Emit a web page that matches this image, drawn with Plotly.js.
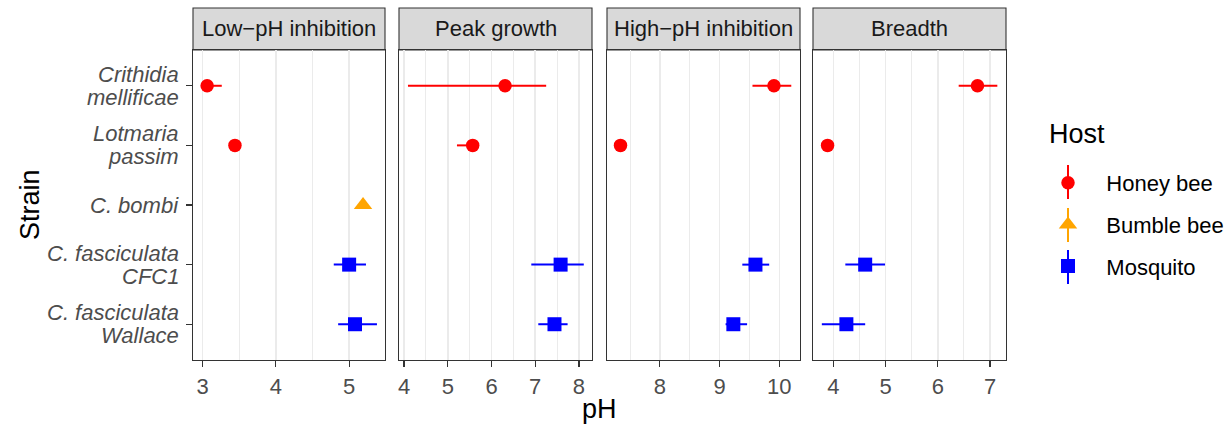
<!DOCTYPE html>
<html><head><meta charset="utf-8">
<script src="https://cdn.plot.ly/plotly-3.0.1.min.js"></script>
<style>html,body{margin:0;padding:0;background:#fff}#chart{width:1227px;height:427px}</style>
</head><body><div id="chart"></div>
<script>
// ---- data ----
const strains = ['Crithidia mellificae', 'Lotmaria passim', 'C. bombi', 'C. fasciculata CFC1', 'C. fasciculata Wallace'];
const strainLines = [['Crithidia', 'mellificae'], ['Lotmaria', 'passim'], ['C. bombi'], ['C. fasciculata', 'CFC1'], ['C. fasciculata', 'Wallace']];
const strainHost = ['Honey bee', 'Honey bee', 'Bumble bee', 'Mosquito', 'Mosquito'];
const hosts = ['Honey bee', 'Bumble bee', 'Mosquito'];
const hostColors = ['#FF0000', '#FFA500', '#0000FF'];
const hostSymbols = ['circle', 'triangle-up', 'square'];
const panels = ['Low\u2212pH inhibition', 'Peak growth', 'High\u2212pH inhibition', 'Breadth'];

const lowEst  = [3.06, 3.44, 5.19, 5.00, 5.08];
const lowLo   = [2.99, 3.40, 5.19, 4.79, 4.85];
const lowHi   = [3.26, 3.48, 5.19, 5.23, 5.38];
const peakEst = [6.31, 5.57, null, 7.58, 7.44];
const peakLo  = [4.09, 5.21, null, 6.91, 7.07];
const peakHi  = [7.25, 5.67, null, 8.11, 7.74];
const highEst = [9.91, 7.34, null, 9.60, 9.23];
const highLo  = [9.55, 7.26, null, 9.38, 9.10];
const highHi  = [10.20, 7.40, null, 9.83, 9.46];
const brEst   = [6.76, 3.89, null, 4.61, 4.25];
const brLo    = [6.40, 3.78, null, 4.23, 3.78];
const brHi    = [7.14, 3.95, null, 4.99, 4.61];

const panelData = [[lowEst, lowLo, lowHi], [peakEst, peakLo, peakHi], [highEst, highLo, highHi], [brEst, brLo, brHi]];
const xRanges = [[2.867, 5.49], [3.885, 8.298], [7.114, 10.346], [3.611, 7.306]];

// ---- geometry ----
const W = 1227, H = 427;
const mL = 193, mR = 221, mT = 50, mB = 67;
const pw = W - mL - mR, ph = H - mT - mB;
const panelPx = [[193, 385], [399, 592], [607, 800], [813, 1006]];
const FONT = 'Liberation Sans, Arial, sans-serif';
const px2x = v => (v - mL) / pw;
const px2y = v => 1 - (v - mT) / ph;

const traces = [];
const shown = {};
panelData.forEach((pd, p) => {
  const [est, lo, hi] = pd;
  hosts.forEach((h, hi_) => {
    const idx = strains.map((s, i) => i).filter(i => strainHost[i] === h && est[i] !== null);
    if (!idx.length) return;
    const first = !shown[h];
    shown[h] = true;
    traces.push({
      type: 'scatter', mode: 'markers',
      x: idx.map(i => est[i]),
      y: idx.map(i => i + 1),
      xaxis: p === 0 ? 'x' : 'x' + (p + 1),
      yaxis: p === 0 ? 'y' : 'y' + (p + 1),
      name: '\u00A0\u00A0\u00A0' + h,
      legendgroup: h,
      showlegend: first,
      marker: {color: hostColors[hi_], symbol: hostSymbols[hi_], size: hi_ === 1 ? 16 : (hi_ === 2 ? 14 : 13.5), line: {width: 0}},
      error_x: {type: 'data', symmetric: false,
        array: idx.map(i => hi[i] - est[i]),
        arrayminus: idx.map(i => est[i] - lo[i]),
        color: hostColors[hi_], thickness: 2, width: 0},
      hoverinfo: 'skip'
    });
  });
});

const layout = {
  width: W, height: H,
  margin: {l: mL, r: mR, t: mT, b: mB, autoexpand: false},
  paper_bgcolor: '#fff', plot_bgcolor: '#fff',
  font: {family: FONT, size: 22, color: '#4D4D4D'},
  showlegend: true,
  legend: {
    x: px2x(1048), xanchor: 'left',
    y: px2y(162), yanchor: 'top',
    font: {size: 22, color: '#000'},
    tracegroupgap: 10,
    bgcolor: 'rgba(0,0,0,0)'
  },
  shapes: [], annotations: []
};

panelPx.forEach((px, p) => {
  const s = p === 0 ? '' : String(p + 1);
  layout['xaxis' + s] = {
    domain: [px2x(px[0]), px2x(px[1])],
    anchor: 'y' + s, range: xRanges[p],
    tickmode: 'linear', tick0: 0, dtick: 1,
    ticks: 'outside', ticklen: 6, tickwidth: 1.1, tickcolor: '#333',
    tickfont: {family: FONT, size: 22, color: '#4D4D4D'},
    showgrid: true, gridcolor: '#EBEBEB', gridwidth: 1.5,
    minor: {dtick: 0.5, tick0: 0, showgrid: true, gridcolor: '#EBEBEB', gridwidth: 1, ticks: ''},
    showline: true, mirror: true, linecolor: '#333', linewidth: 1.1,
    zeroline: false, fixedrange: true
  };
  layout['yaxis' + s] = {
    domain: [0, 1], anchor: 'x' + s,
    range: [5.6, 0.4],
    tickmode: 'array', tickvals: strains.map((d, i) => i + 1), ticktext: strains,
    showticklabels: false,
    ticks: p === 0 ? 'outside' : '', ticklen: 6, tickwidth: 1.1, tickcolor: '#333',
    showgrid: false, zeroline: false,
    showline: true, mirror: true, linecolor: '#333', linewidth: 1.1,
    fixedrange: true
  };
  const xr = (p === 0 ? 'x' : 'x' + (p + 1)) + ' domain';
  layout.shapes.push({type: 'rect', xref: xr, yref: 'paper', x0: 0, x1: 1, y0: 1, y1: 1 + 42 / ph,
    fillcolor: '#D9D9D9', line: {color: '#333', width: 1.1}, layer: 'below'});
  layout.annotations.push({xref: xr, yref: 'paper', x: 0.5, y: 1 + 21 / ph, xanchor: 'center', yanchor: 'middle',
    text: panels[p], showarrow: false, font: {family: FONT, size: 22, color: '#1A1A1A'}});
});

// y-axis strain labels (italic, two lines, right-aligned)
strainLines.forEach((lines, i) => {
  lines.forEach((t, j) => {
    const shift = lines.length === 1 ? 0 : (j === 0 ? 11.5 : -11.5);
    layout.annotations.push({xref: 'paper', yref: 'y', x: px2x(181), y: i + 1, yshift: shift,
      xanchor: 'right', yanchor: 'middle', text: '<i>' + t + '</i>', showarrow: false,
      font: {family: FONT, size: 22, color: '#4D4D4D'}});
  });
});

// axis titles
layout.annotations.push({xref: 'paper', yref: 'paper', x: 0.5, y: px2y(409), xanchor: 'center', yanchor: 'middle',
  text: 'pH', showarrow: false, font: {family: FONT, size: 27, color: '#000'}});
layout.annotations.push({xref: 'paper', yref: 'paper', x: px2x(30), y: 0.5, xanchor: 'center', yanchor: 'middle',
  text: 'Strain', textangle: -90, showarrow: false, font: {family: FONT, size: 27, color: '#000'}});
// legend title
layout.annotations.push({xref: 'paper', yref: 'paper', x: px2x(1047), y: px2y(134), xanchor: 'left', yanchor: 'middle',
  text: 'Host', showarrow: false, font: {family: FONT, size: 27, color: '#000'}});
// vertical range lines of the legend keys (pointrange glyph)
const keyY = [182, 225, 267];
hosts.forEach((h, k) => {
  layout.shapes.push({type: 'line', xref: 'paper', yref: 'paper', x0: px2x(1068), x1: px2x(1068),
    y0: px2y(keyY[k] - 17), y1: px2y(keyY[k] + 17), line: {color: hostColors[k], width: 2}, layer: 'below'});
});

Plotly.newPlot('chart', traces, layout, {staticPlot: true, displayModeBar: false});
</script>
</body></html>
